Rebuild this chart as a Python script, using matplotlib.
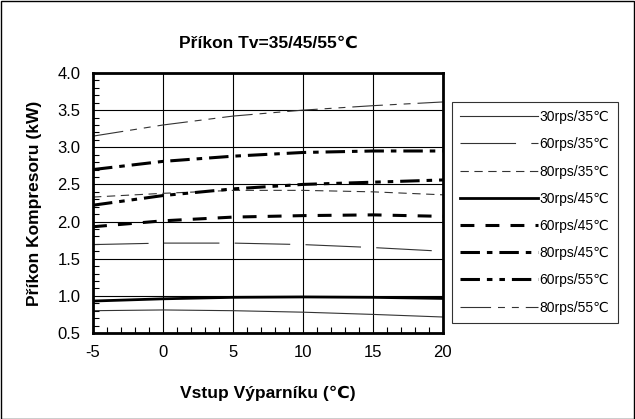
import numpy as np
import matplotlib
matplotlib.use("Agg")
import matplotlib.pyplot as plt
from matplotlib.ticker import MultipleLocator

plt.rcParams['font.family'] = ['Liberation Sans', 'DejaVu Sans']
plt.rcParams['lines.scale_dashes'] = False
plt.rcParams['axes.unicode_minus'] = False

# evaporator inlet temperature (C)
temp = [-5, 0, 5, 10, 15, 20]

# compressor power input (kW)
p30_35 = [0.80, 0.81, 0.80, 0.78, 0.75, 0.715]
p60_35 = [1.69, 1.71, 1.71, 1.69, 1.65, 1.60]
p80_35 = [2.33, 2.38, 2.42, 2.42, 2.40, 2.36]
p30_45 = [0.93, 0.96, 0.98, 0.985, 0.98, 0.965]
p60_45 = [1.93, 2.01, 2.06, 2.08, 2.09, 2.07]
p80_45 = [2.70, 2.81, 2.88, 2.93, 2.95, 2.95]
p60_55 = [2.22, 2.35, 2.44, 2.50, 2.53, 2.56]
p80_55 = [3.15, 3.30, 3.42, 3.50, 3.56, 3.61]

labels = ['30rps/35℃', '60rps/35℃', '80rps/35℃', '30rps/45℃',
          '60rps/45℃', '80rps/45℃', '60rps/55℃', '80rps/55℃']
series = [p30_35, p60_35, p80_35, p30_45, p60_45, p80_45, p60_55, p80_55]

styles = [
    dict(color='#333333', lw=0.8, ls='-'),
    dict(color='#333333', lw=0.8, ls=(0, (40, 11))),
    dict(color='#333333', lw=0.8, ls=(0, (6, 4))),
    dict(color='black', lw=2.0, ls='-'),
    dict(color='black', lw=2.2, ls=(0, (10, 8))),
    dict(color='black', lw=2.2, ls=(0, (14, 5, 4, 5))),
    dict(color='black', lw=2.2, ls=(0, (14, 5, 4, 5, 4, 5))),
    dict(color='#333333', lw=0.8, ls=(0, (22, 5, 5, 5, 5, 5))),
]

fig = plt.figure(figsize=(6.35, 4.19), dpi=100)
ax = fig.add_axes([0.1465, 0.2053, 0.551, 0.6205])

for vals, lab, st in zip(series, labels, styles):
    ax.plot(temp, vals, label=lab, **st)

ax.set_xlim(-5, 20)
ax.set_ylim(0.5, 4.0)
ax.xaxis.set_major_locator(MultipleLocator(5))
ax.xaxis.set_minor_locator(MultipleLocator(1))
ax.yaxis.set_major_locator(MultipleLocator(0.5))
ax.yaxis.set_minor_locator(MultipleLocator(0.1))
ax.yaxis.set_major_formatter(matplotlib.ticker.FormatStrFormatter('%.1f'))
ax.grid(True, which='major', color='black', lw=0.8)
ax.tick_params(which='both', direction='in', labelsize=12, top=False, right=False)
ax.tick_params(which='major', length=0, pad=9)
ax.tick_params(which='minor', length=4, width=0.8)
for s in ax.spines.values():
    s.set_linewidth(2)

ax.set_title('Příkon Tv=35/45/55℃', fontsize=12.5, fontweight='bold', pad=18)
ax.set_xlabel('Vstup Výparníku (℃)', fontsize=12.5, fontweight='bold', labelpad=18)
ax.set_ylabel('Příkon Kompresoru (kW)', fontsize=12.5, fontweight='bold', labelpad=11)

leg = fig.legend(loc='upper left', bbox_to_anchor=(0.712, 0.757), fontsize=10,
                 handlelength=5.6, handletextpad=0.1, labelspacing=0.95,
                 frameon=True, fancybox=False, edgecolor='black',
                 borderpad=0.6, borderaxespad=0)
leg.get_frame().set_linewidth(0.8)

fig.patches.append(plt.Rectangle((0.001, 0.001), 0.997, 0.997, transform=fig.transFigure,
                                 fill=False, edgecolor='black', lw=1))

fig.savefig('out.png', dpi=100)
